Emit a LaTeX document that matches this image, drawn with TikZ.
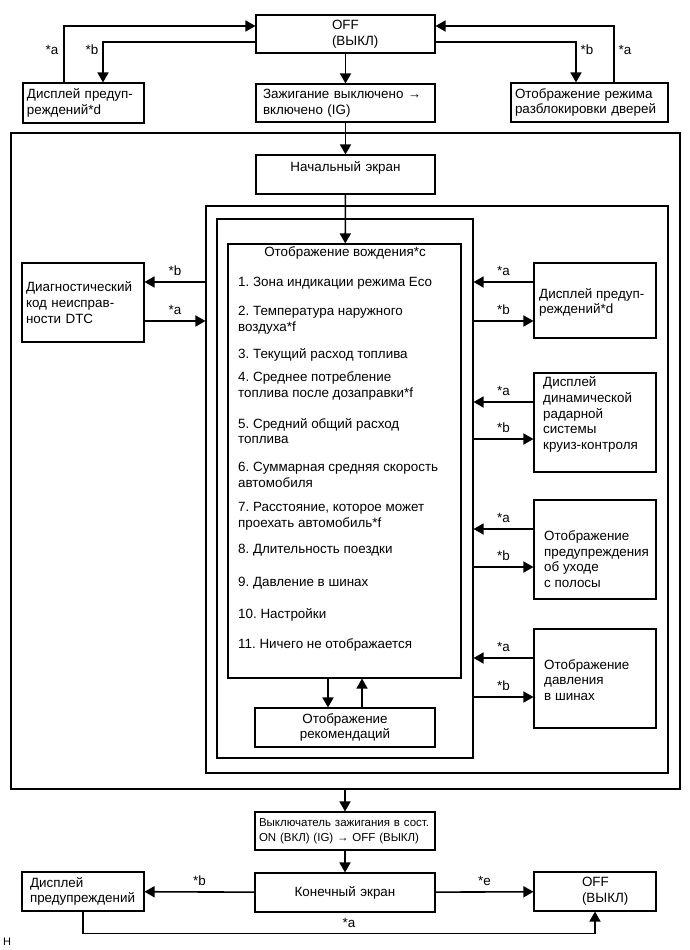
\documentclass[tikz,border=0pt]{standalone}
\usepackage{fontspec}
\setmainfont{Liberation Sans}
\usetikzlibrary{arrows.meta}
\begin{document}
\frenchspacing
\begin{tikzpicture}[x=1pt,y=-1pt,font=\fontsize{13.4}{15.7}\selectfont]
    \tikzset{
      box/.style={draw, line width=1.1pt, inner xsep=4pt, inner ysep=2pt, align=left},
      frame/.style={draw, line width=1.1pt, inner sep=0pt},
      arr/.style={line width=1.6pt, -{Triangle[length=10pt,width=11pt]}},
      lbl/.style={inner sep=0pt},
      item/.style={anchor=west, align=left, inner sep=0pt},
    }
    \useasboundingbox (0,0) rectangle (689,950);
    % frames
    \node[frame, minimum width=669pt, minimum height=656pt] (f1) at (345.5,461) {};
    \node[frame, minimum width=462pt, minimum height=567pt] (f2) at (437,489.5) {};
    \node[frame, minimum width=256pt, minimum height=539pt] (f3) at (345,488.5) {};
    \node[frame, minimum width=233pt, minimum height=434pt] (drive) at (344.5,461) {};
    %
    \node[box, minimum width=179pt, minimum height=38pt, text width=27pt] (off) at (345.5,34) {OFF\\(ВЫКЛ)};
    \node[box, minimum width=121pt, minimum height=40pt, text width=113pt] (warnl) at (83.5,103) {Дисплей предуп-\\реждений*d};
    \node[box, minimum width=179pt, minimum height=38pt, text width=165pt] (ign) at (345.5,103) {Зажигание выключено →\\включено (IG)};
    \node[box, minimum width=157pt, minimum height=39pt, text width=149pt] (doors) at (589.5,102.5) {Отображение режима\\разблокировки дверей};
    \node[box, minimum width=179pt, minimum height=39pt, text width=171pt, align=center] (start) at (345.5,174.5) {Начальный экран\\\mbox{}};
    \node[box, minimum width=180pt, minimum height=39pt, text width=172pt, align=center] (rec) at (345,727.5) {Отображение\\рекомендаций};
    \node[box, minimum width=122pt, minimum height=79pt, text width=114pt] (dtc) at (83,302.5) {Диагностический\\код неисправ-\\ности DTC};
    \node[box, minimum width=122pt, minimum height=75pt] (r1) at (595,300.5) {};
    \node[item] (r1t) at (539,302.5) {Дисплей предуп-\\реждений*d};
    \node[box, minimum width=122pt, minimum height=99pt] (r2) at (595,422.5) {};
    \node[item] (r2t) at (543,414.5) {Дисплей\\динамической\\радарной\\системы\\круиз-контроля};
    \node[box, minimum width=122pt, minimum height=99pt] (r3) at (595,549.5) {};
    \node[item] (r3t) at (544,559) {Отображение\\предупреждения\\об уходе\\с полосы};
    \node[box, minimum width=122pt, minimum height=99pt] (r4) at (595,678.5) {};
    \node[item] (r4t) at (544,680) {Отображение\\давления\\в шинах};
    \node[box, minimum width=180pt, minimum height=38pt, text width=172pt, font=\fontsize{11.5}{15}\selectfont] (sw) at (345,831) {Выключатель зажигания в сост.\\ON (ВКЛ) (IG) → OFF (ВЫКЛ)};
    \node[box, minimum width=180pt, minimum height=39pt, text width=172pt, align=center] (fin) at (345,892.5) {Конечный экран};
    \node[box, minimum width=122pt, minimum height=39pt, text width=106pt] (warnb) at (83,891.5) {Дисплей\\предупреждений};
    \node[box, minimum width=122pt, minimum height=39pt, text width=26pt] (offb) at (595,891.5) {OFF\\(ВЫКЛ)};
    % list of driving displays
    \node[lbl] (title) at (345,253) {Отображение вождения*c};
    \foreach \n/\y/\t in {
      1/283/{1. Зона индикации режима Eco},
      2/320/{2. Температура наружного\\воздуха*f},
      3/355/{3. Текущий расход топлива},
      4/386/{4. Среднее потребление\\топлива после дозаправки*f},
      5/431/{5. Средний общий расход\\топлива},
      6/475/{6. Суммарная средняя скорость\\автомобиля},
      7/516.5/{7. Расстояние, которое может\\проехать автомобиль*f},
      8/550/{8. Длительность поездки},
      9/583/{9. Давление в шинах},
      10/615/{10. Настройки},
      11/645/{11. Ничего не отображается}}
      \node[item] (it\n) at (238,\y) {\t};
    % top
    \draw[arr] (off) -- (ign);
    \draw[arr] (warnl.north -| 64,0) |- (off.west |- 0,26);
    \draw[arr] (off.west |- 0,42) -| (warnl.north -| 103,0);
    \draw[arr] (off.east |- 0,42) -| (doors.north -| 576,0);
    \draw[arr] (doors.north -| 614,0) |- (off.east |- 0,26);
    \node[lbl] (ta1) at (52,50) {*a};
    \node[lbl] (tb1) at (92,50) {*b};
    \node[lbl] (tb2) at (587,50) {*b};
    \node[lbl] (ta2) at (625,50) {*a};
    \draw[arr] (ign) -- (start);
    \draw[arr] (start) -- (drive);
    \draw[arr] (drive.south -| 328,0) -- (rec.north -| 328,0);
    \draw[arr] (rec.north -| 362,0) -- (drive.south -| 362,0);
    % left
    \draw[arr] (f2.west |- 0,282) -- (dtc.east |- 0,282) node[lbl, midway, above=6pt] (lb) {*b};
    \draw[arr] (dtc.east |- 0,321) -- (f2.west |- 0,321) node[lbl, midway, above=6pt] (la) {*a};
    % right
    \foreach \r/\ya/\yb in {r1/282/321, r2/402/439, r3/529/567, r4/658/697} {
      \draw[arr] (\r.west |- 0,\ya) -- (f3.east |- 0,\ya) node[lbl, midway, above=6pt] (a\r) {*a};
      \draw[arr] (f3.east |- 0,\yb) -- (\r.west |- 0,\yb) node[lbl, midway, above=6pt] (b\r) {*b};
    }
    % bottom
    \draw[arr] (f1.south -| sw.north) -- (sw);
    \draw[arr] (sw) -- (fin);
    \draw[arr] (fin) -- (warnb) node[lbl, pos=0.5, above=6pt] (bb) {*b};
    \draw[arr] (fin) -- (offb) node[lbl, pos=0.5, above=6pt] (be) {*e};
    \draw[arr] (warnb.south) -- ++(0,22) -| (offb.south);
    \node[lbl] (ba) at (349,923) {*a};
    \node[lbl, font=\fontsize{11}{13}\selectfont] (mark) at (7,942) {H};
\end{tikzpicture}
\end{document}
